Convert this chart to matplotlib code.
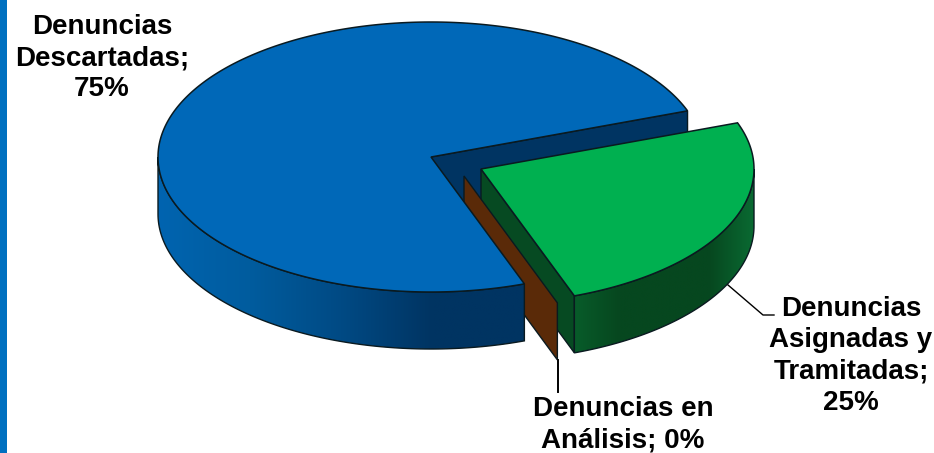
import numpy as np
import matplotlib
matplotlib.use('Agg')
import matplotlib.pyplot as plt
from matplotlib.patches import Polygon, Rectangle
from matplotlib.colors import LinearSegmentedColormap

plt.rcParams['font.family'] = ['Liberation Sans', 'DejaVu Sans']

# data
categories = ['Denuncias\nDescartadas', 'Denuncias en\nAnálisis', 'Denuncias\nAsignadas y\nTramitadas']
values = [75, 0, 25]
separators = [';\n', '; ', ';\n']

# pie geometry, pixels
cx, cy = 431, 157
rx, ry = 273, 135
depth = 57
start = 20
offsets = [(0, 0), (33, 19), (50, 12)]
label_pos = [(102, 58), (623, 425), (851, 356)]

edge = '#0a1a20'


def rim(a0, a1, off, n=120):
    t = np.radians(np.linspace(a0, a1, n))
    return np.column_stack([cx + off[0] + rx * np.cos(t), cy + off[1] - ry * np.sin(t)])


def shaded(ax, pts, colors, z):
    # side wall with horizontal gradient clipped to the polygon
    poly = Polygon(pts, closed=True, fc='none', ec=edge, lw=1.0, zorder=z + 0.1)
    ax.add_patch(poly)
    cmap = LinearSegmentedColormap.from_list('side', colors)
    im = ax.imshow(np.linspace(0, 1, 256).reshape(1, -1), cmap=cmap, aspect='auto',
                   extent=(pts[:, 0].min(), pts[:, 0].max(), pts[:, 1].max(), pts[:, 1].min()),
                   zorder=z, interpolation='bilinear')
    im.set_clip_path(poly)


def wall(a0, a1, off):
    top = rim(a0, a1, off)
    return np.vstack([top, top[::-1] + [0, depth]])


def cut(angle, off):
    p = rim(angle, angle, off, 1)[0]
    c = np.array([cx + off[0], cy + off[1]])
    return np.array([c, p, p + [0, depth], c + [0, depth]])


fig = plt.figure(figsize=(9.34, 4.53), dpi=100, facecolor='white')
ax = fig.add_axes([0, 0, 1, 1])

ang = start + np.cumsum([0] + [v * 3.6 for v in values])

# blue slice
ax.add_patch(Polygon(cut(ang[0], offsets[0]), fc='#003462', ec=edge, lw=1.0, zorder=1))
shaded(ax, wall(180, ang[1], offsets[0]), ['#0064b0', '#005c9e', '#004a84', '#003462', '#003462'], 5)
c0 = np.array([[cx, cy]])
ax.add_patch(Polygon(np.vstack([c0, rim(ang[0], ang[1], offsets[0], 300)]), fc='#0068b8', ec=edge, lw=1.1, zorder=6))

# green slice
ax.add_patch(Polygon(cut(ang[2], offsets[2]), fc='#064a22', ec=edge, lw=1.0, zorder=2))
shaded(ax, wall(ang[2], 360, offsets[2]), ['#085c2a', '#06471f', '#06471f', '#06471f', '#0a6a32'], 3)
c2 = np.array([[cx + offsets[2][0], cy + offsets[2][1]]])
ax.add_patch(Polygon(np.vstack([c2, rim(ang[2], ang[3], offsets[2], 200)]), fc='#00b050', ec=edge, lw=1.1, zorder=7))

# zero slice, only its cut face shows
ax.add_patch(Polygon(cut(ang[1], offsets[1]), fc='#5a2a08', ec=edge, lw=1.0, zorder=4))

# left stripe
ax.add_patch(Rectangle((0, 0), 7, 453, fc='#0070c0', ec='none', zorder=8))

# leader lines
ax.plot([728, 763, 774], [285, 315, 315], color='black', lw=1.0, zorder=8)
ax.plot([558, 558], [360, 392], color='black', lw=1.4, zorder=8)

for name, val, sep, pos in zip(categories, values, separators, label_pos):
    ax.text(pos[0], pos[1], f'{name}{sep}{val}%', ha='center', va='center', fontsize=20,
            fontweight='bold', linespacing=1.26, color='black', zorder=9)

ax.set_xlim(0, 934)
ax.set_ylim(453, 0)
ax.axis('off')

fig.savefig('out.png', dpi=100, facecolor='white')
